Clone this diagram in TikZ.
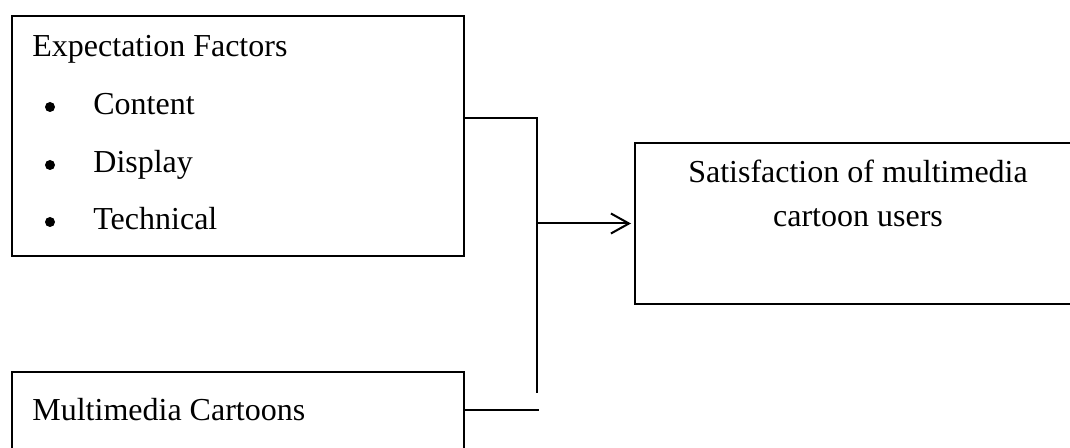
\documentclass[tikz,border=0pt]{standalone}
\usepackage{fontspec}
\setmainfont{Liberation Serif}
\usetikzlibrary{arrows.meta}

\begin{document}
\begin{tikzpicture}
[x=0.5pt,y=-0.5pt,%
  boxDecorate/.style={draw,line width=1pt,inner sep=0pt,outer sep=0pt,anchor=north west},%
  textDecorate/.style={anchor=base west,inner sep=0pt,font=\fontsize{16}{19}\selectfont},%
  bulletDecorate/.style={circle,fill,inner sep=0pt,minimum size=5pt},%
  lineDecorate/.style={line width=1pt}]
\useasboundingbox (0,0) rectangle (1070,448);
\clip (0,0) rectangle (1070,448);
%% boxes
\node (expect) at (12,16) [boxDecorate,minimum width=226pt,minimum height=120pt] {};
\node (satisf) at (635,143) [boxDecorate,minimum width=225pt,minimum height=80.5pt] {};
\node (cartoon) at (12,372) [boxDecorate,minimum width=226pt,minimum height=50pt] {};
%% texts
\node (expecttitle) at (32,57) [textDecorate] {Expectation Factors};
\foreach \itemname/\y in {Content/115, Display/173, Technical/230}
{
  \node (bullet\itemname) at (50,\y-8) [bulletDecorate] {};
  \node (item\itemname) at (93,\y) [textDecorate] {\itemname};
}
\node (satisfone) at (858,183) [textDecorate,anchor=base] {Satisfaction of multimedia};
\node (satisftwo) at (858,227) [textDecorate,anchor=base] {cartoon users};
\node (cartoontitle) at (32,421) [textDecorate] {Multimedia Cartoons};
%% connectors
\coordinate (joinTop) at (537,118);
\coordinate (joinEnd) at (537,393);
\coordinate (cartoonEnd) at (539,410);
\draw[lineDecorate] (expect.east |- joinTop) -- (joinTop) -- (joinEnd);
\draw[lineDecorate] (cartoon.east |- cartoonEnd) -- (cartoonEnd);
\draw[lineDecorate,-{Straight Barb[length=9pt,width=10pt]},shorten >=2pt] (joinTop |- satisf.west) -- (satisf.west);
\end{tikzpicture}
\end{document}
